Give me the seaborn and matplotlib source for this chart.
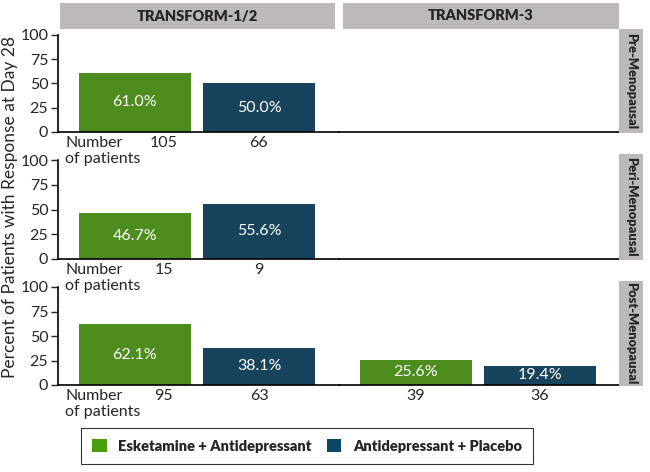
import matplotlib

matplotlib.use("Agg")
import matplotlib.pyplot as plt
import pandas as pd
import seaborn as sns
from matplotlib.patches import Patch, Rectangle

# ---- Data ------------------------------------------------------------------ #
studies = ["TRANSFORM-1/2", "TRANSFORM-3"]
stages = ["Pre-Menopausal", "Peri-Menopausal", "Post-Menopausal"]
arms = ["Esketamine + Antidepressant", "Antidepressant + Placebo"]

# response (%) per stage, per arm; None = no data in that study
t12_esk = [61.0, 46.7, 62.1]
t12_pbo = [50.0, 55.6, 38.1]
t12_n_esk = [105, 15, 95]
t12_n_pbo = [66, 9, 63]

t3_esk = [None, None, 25.6]
t3_pbo = [None, None, 19.4]
t3_n_esk = [None, None, 39]
t3_n_pbo = [None, None, 36]

GREEN = "#4a9f0c"
BLUE = "#0b4868"
STRIP = "#bdb9b9"
palette = {arms[0]: GREEN, arms[1]: BLUE}

sns.set_style("white")
plt.rcParams["font.family"] = ["Lato", "DejaVu Sans"]

fig = plt.figure(figsize=(6.5, 4.72), dpi=100)
W, H = 650, 472


def fig_box(x0, y0, x1, y1):
    """pixel box (top-left origin) -> figure-fraction rect"""
    return [x0 / W, 1 - y1 / H, (x1 - x0) / W, (y1 - y0) / H]


col_px = [(58, 339), (339, 620)]
row_px = [(35, 132), (160, 259), (287, 385)]
study_data = [
    (t12_esk, t12_pbo, t12_n_esk, t12_n_pbo),
    (t3_esk, t3_pbo, t3_n_esk, t3_n_pbo),
]

for r, (y0, y1) in enumerate(row_px):
    for c, (x0, x1) in enumerate(col_px):
        ax = fig.add_axes(fig_box(x0, y0, x1, y1))
        ax.set_facecolor("none")
        esk, pbo, n_esk, n_pbo = study_data[c]
        if esk[r] is not None:
            df = pd.DataFrame({"arm": arms, "pct": [esk[r], pbo[r]]})
            sns.barplot(data=df, x="arm", y="pct", hue="arm", order=arms,
                        palette=palette, width=0.9, legend=False, ax=ax,
                        edgecolor="none")
            for i, v in enumerate([esk[r], pbo[r]]):
                ax.text(i, v / 2, f"{v:.1f}%", color="white", ha="center",
                        va="center", fontsize=11.5)
            nums = [n_esk[r], n_pbo[r]]
            xs = [0.23, 1.0] if c == 0 else [0.0, 1.0]
            for x, n in zip(xs, nums):
                ax.annotate(str(n), xy=(x, 0), xytext=(0, -3),
                            textcoords="offset points", ha="center",
                            va="top", fontsize=11.5)
        if c == 0:
            ax.annotate("Number\nof patients", xy=(-0.56, 0), xytext=(0, -3),
                        textcoords="offset points", ha="left", va="top",
                        fontsize=11.5, linespacing=1.2, annotation_clip=False)

        ax.set_xlim(-0.62, 1.645)
        ax.set_ylim(0, 100)
        ax.set_xlabel("")
        ax.set_ylabel("")
        ax.set_xticks([])
        for s in ["top", "right"]:
            ax.spines[s].set_visible(False)
        ax.spines["bottom"].set_color("black")
        ax.spines["bottom"].set_linewidth(1.2)
        if c == 0:
            ax.set_yticks([0, 25, 50, 75, 100])
            ax.tick_params(axis="y", length=5, width=1, direction="out",
                           labelsize=11.5, left=True, pad=2)
            ax.spines["left"].set_color("black")
            ax.spines["left"].set_linewidth(1.2)
        else:
            ax.spines["left"].set_visible(False)
            ax.set_yticks([])

    # row strip on the right
    sy0, sy1 = (y0 - 6, y1 + 1)
    fig.patches.append(Rectangle((619 / W, 1 - sy1 / H), 24 / W, (sy1 - sy0) / H,
                                 transform=fig.transFigure, facecolor=STRIP,
                                 edgecolor="none"))
    fig.text(631 / W, 1 - (sy0 + sy1) / 2 / H, stages[r], rotation=-90,
             ha="center", va="center", fontsize=9.3, fontweight="heavy")

# column strips on top
for (x0, x1), label in zip([(60, 335), (343, 619)], studies):
    fig.patches.append(Rectangle((x0 / W, 1 - 29 / H), (x1 - x0) / W, 26 / H,
                                 transform=fig.transFigure, facecolor=STRIP,
                                 edgecolor="none"))
    fig.text((x0 + x1) / 2 / W, 1 - 16 / H, label, ha="center", va="center",
             fontsize=10.5, fontweight="heavy")

fig.text(10 / W, 1 - 207 / H, "Percent of Patients with Response at Day 28",
         rotation=90, ha="center", va="center", fontsize=12.5)

handles = [Patch(facecolor=palette[a], edgecolor="none") for a in arms]
leg = fig.legend(handles, arms, loc="center", ncol=2,
                 bbox_to_anchor=(307 / W, 1 - 446 / H), frameon=True,
                 fancybox=False, edgecolor="black", handlelength=1.0,
                 handleheight=1.0, handletextpad=0.8, columnspacing=1.0,
                 borderpad=0.75, prop={"weight": "heavy", "size": 10.5})
leg.get_frame().set_linewidth(0.8)

fig.savefig("out.png", dpi=100)
